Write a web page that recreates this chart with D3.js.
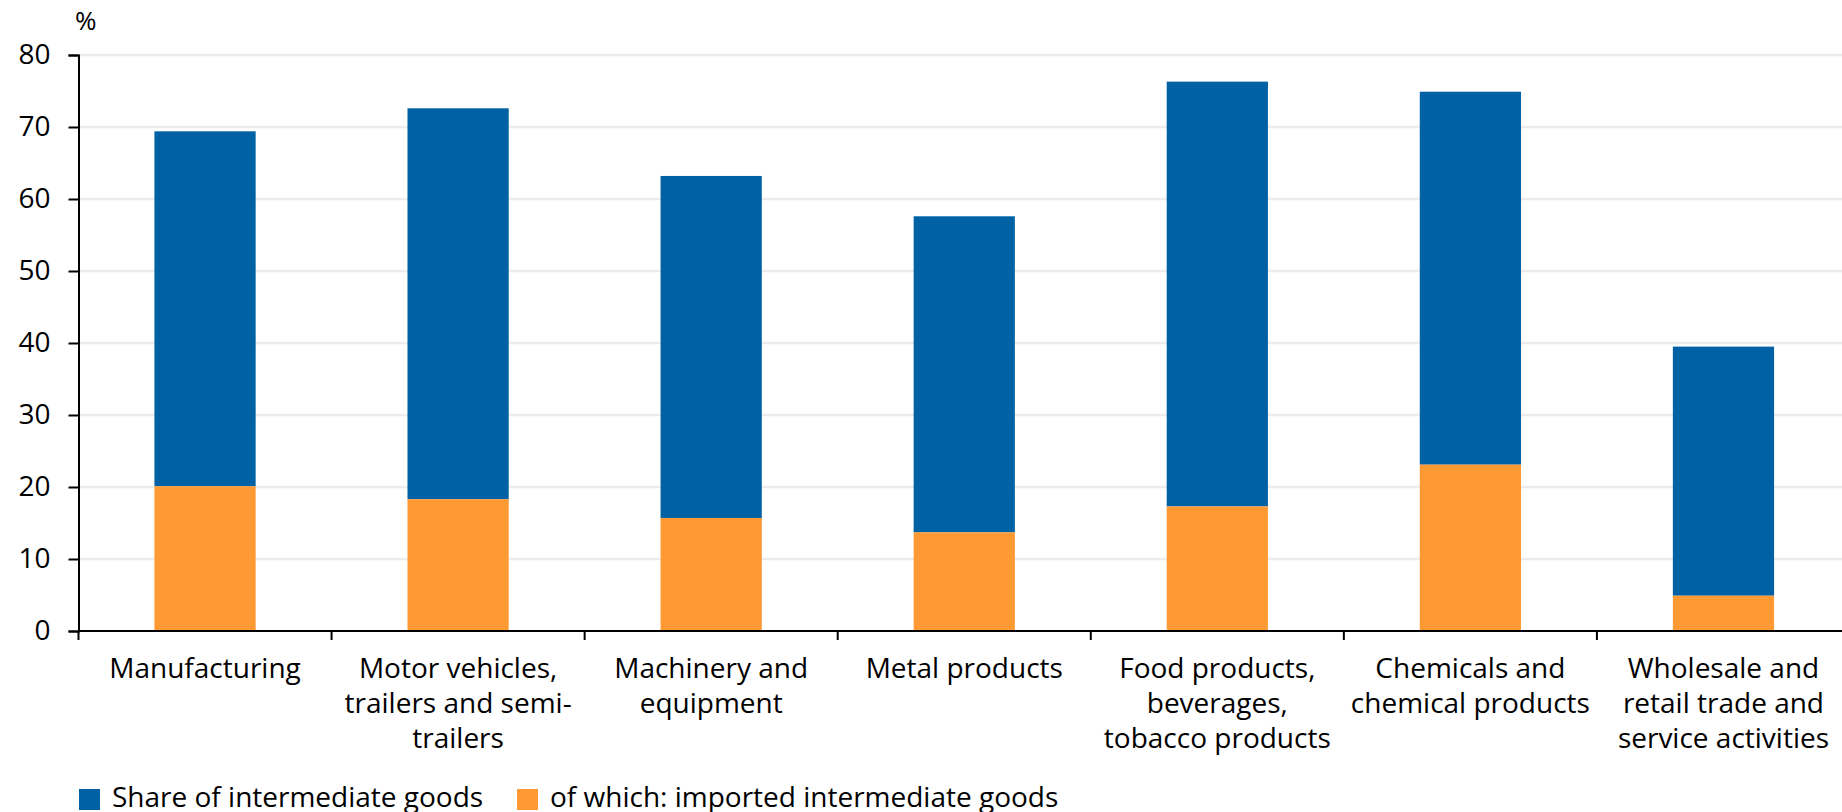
<!DOCTYPE html>
<html>
<head>
<meta charset="utf-8">
<script src="https://cdn.jsdelivr.net/npm/d3@7"></script>
<style>
  body { margin: 0; background: #fff; }
  text { font-family: "Open Sans", "Liberation Sans", sans-serif; fill: #000; }
</style>
</head>
<body>
<div id="chart"></div>
<script>
// data
const categories = [
  'Manufacturing',
  'Motor vehicles, trailers and semi-trailers',
  'Machinery and equipment',
  'Metal products',
  'Food products, beverages, tobacco products',
  'Chemicals and chemical products',
  'Wholesale and retail trade and service activities'
];
const tickLabels = [
  ['Manufacturing'],
  ['Motor vehicles,', 'trailers and semi-', 'trailers'],
  ['Machinery and', 'equipment'],
  ['Metal products'],
  ['Food products,', 'beverages,', 'tobacco products'],
  ['Chemicals and', 'chemical products'],
  ['Wholesale and', 'retail trade and', 'service activities']
];
const shareIntermediate = [69.4, 72.6, 63.2, 57.6, 76.3, 74.9, 39.5];
const importedIntermediate = [20.1, 18.3, 15.7, 13.7, 17.3, 23.1, 4.9];
const yTicks = [0, 10, 20, 30, 40, 50, 60, 70, 80];
const seriesNames = ['Share of intermediate goods', 'of which: imported intermediate goods'];
const colors = ['#0061a4', '#ff9933'];

const W = 1842, H = 812;
const margin = { top: 55, left: 78.5, bottom: 631 };
const fontSize = 28;

const svg = d3.select('#chart')
  .append('svg')
  .attr('width', W)
  .attr('height', H);

const x = d3.scaleBand()
  .domain(categories)
  .range([margin.left, 1850])
  .paddingInner(0.6)
  .paddingOuter(0.3);

const y = d3.scaleLinear()
  .domain([0, 80])
  .range([margin.bottom, margin.top]);

// gridlines
svg.append('g')
  .selectAll('line')
  .data(yTicks.filter(d => d > 0))
  .join('line')
  .attr('x1', margin.left)
  .attr('x2', W)
  .attr('y1', d => y(d))
  .attr('y2', d => y(d))
  .style('stroke', '#ececec')
  .style('stroke-width', 2.5);

// bars
const rows = categories.map((c, i) => ({ c, total: shareIntermediate[i], imp: importedIntermediate[i] }));

svg.append('g')
  .selectAll('rect')
  .data(rows)
  .join('rect')
  .attr('x', d => x(d.c))
  .attr('width', x.bandwidth())
  .attr('y', d => y(d.total))
  .attr('height', d => y(d.imp) - y(d.total))
  .style('fill', colors[0]);

svg.append('g')
  .selectAll('rect')
  .data(rows)
  .join('rect')
  .attr('x', d => x(d.c))
  .attr('width', x.bandwidth())
  .attr('y', d => y(d.imp))
  .attr('height', d => y(0) - y(d.imp))
  .style('fill', colors[1]);

// y axis
const yAxis = d3.axisLeft(y)
  .tickValues(yTicks)
  .tickSize(10)
  .tickPadding(18);

svg.append('g')
  .attr('class', 'y-axis')
  .attr('transform', `translate(${margin.left},0)`)
  .call(yAxis);

// x axis line + boundary ticks
const xAxis = svg.append('g').attr('class', 'x-axis');
xAxis.append('line')
  .attr('x1', margin.left)
  .attr('x2', W)
  .attr('y1', y(0))
  .attr('y2', y(0));

const edges = categories.map(c => x(c) - x.step() * x.paddingOuter());
xAxis.selectAll('.xtick')
  .data(edges)
  .join('line')
  .attr('class', 'xtick')
  .attr('x1', d => d)
  .attr('x2', d => d)
  .attr('y1', y(0))
  .attr('y2', y(0) + 9);

xAxis.selectAll('line')
  .style('stroke', '#000')
  .style('stroke-width', 2);

const labels = xAxis.selectAll('.xlabel')
  .data(categories)
  .join('text')
  .attr('class', 'xlabel')
  .attr('text-anchor', 'middle')
  .attr('x', d => x(d) + x.bandwidth() / 2)
  .attr('y', 678)
  .style('font-size', fontSize + 'px');

labels.selectAll('tspan')
  .data((d, i) => tickLabels[i].map(t => ({ t, c: d })))
  .join('tspan')
  .attr('x', d => x(d.c) + x.bandwidth() / 2)
  .attr('y', (d, j) => 678 + j * 35)
  .text(d => d.t);

// style the y axis
svg.selectAll('.y-axis .domain, .y-axis .tick line')
  .style('stroke', '#000')
  .style('stroke-width', 2);
svg.selectAll('.y-axis text')
  .style('font-size', fontSize + 'px')
  .style('font-family', '"Open Sans", "Liberation Sans", sans-serif');

// unit label
svg.append('text')
  .attr('x', 75)
  .attr('y', 30)
  .style('font-size', '26px')
  .text('%');

// legend
const legendX = [79, 517];
const legend = svg.append('g')
  .selectAll('g')
  .data(seriesNames)
  .join('g')
  .attr('transform', (d, i) => `translate(${legendX[i]},789)`);

legend.append('rect')
  .attr('width', 21)
  .attr('height', 21)
  .style('fill', (d, i) => colors[i]);

legend.append('text')
  .attr('x', 33)
  .attr('y', 18)
  .style('font-size', fontSize + 'px')
  .text(d => d);
</script>
</body>
</html>
